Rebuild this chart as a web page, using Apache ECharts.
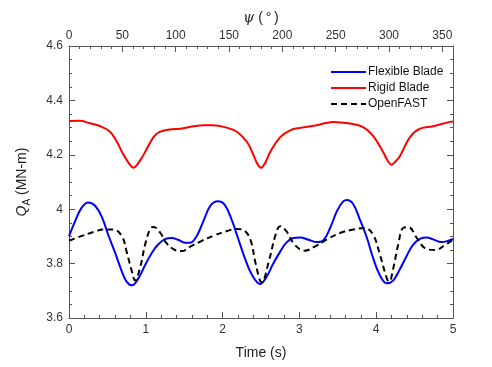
<!DOCTYPE html>
<html><head><meta charset="utf-8">
<script src="https://cdn.jsdelivr.net/npm/echarts@6/dist/echarts.min.js"></script>
<style>html,body{margin:0;padding:0;background:#fff}#c{width:492px;height:367px}</style>
</head><body><div id="c"></div>
<script>
// Time (s) samples and torque Q_A (MN-m)
var tFlex = [0,0.08,0.165,0.25,0.34,0.43,0.51,0.60,0.69,0.75,0.82,0.90,0.99,1.08,1.16,1.25,1.34,1.42,1.51,1.58,1.66,1.75,1.84,1.94,2.03,2.12,2.20,2.29,2.38,2.49,2.57,2.66,2.75,2.83,2.92,3.01,3.12,3.23,3.31,3.40,3.49,3.57,3.62,3.70,3.79,3.88,3.96,4.05,4.14,4.22,4.31,4.40,4.48,4.57,4.66,4.74,4.85,4.94,5.0];
var qFlex = [3.90,3.956,4.006,4.025,4.0125,3.97,3.906,3.84,3.77,3.734,3.72,3.744,3.794,3.84,3.87,3.89,3.894,3.8875,3.877,3.877,3.90,3.956,4.0125,4.029,4.015,3.96,3.894,3.82,3.76,3.725,3.75,3.80,3.844,3.877,3.894,3.896,3.8875,3.879,3.885,3.931,3.994,4.029,4.034,4.019,3.96,3.894,3.82,3.756,3.7275,3.7375,3.78,3.83,3.869,3.891,3.896,3.889,3.879,3.884,3.891];
var tRigid = [0,0.14,0.27,0.40,0.53,0.62,0.71,0.79,0.84,0.89,0.95,1.01,1.10,1.18,1.31,1.45,1.62,1.75,1.88,2.05,2.19,2.32,2.40,2.45,2.50,2.55,2.62,2.75,2.88,3.01,3.23,3.44,3.66,3.83,3.96,4.09,4.15,4.20,4.25,4.31,4.44,4.57,4.74,4.96,5.0];
var qRigid = [4.324,4.325,4.316,4.306,4.286,4.25,4.20,4.165,4.152,4.165,4.19,4.22,4.265,4.284,4.293,4.296,4.305,4.309,4.309,4.30,4.284,4.246,4.20,4.168,4.152,4.168,4.21,4.265,4.29,4.299,4.309,4.321,4.315,4.302,4.27,4.21,4.178,4.163,4.175,4.196,4.265,4.296,4.305,4.321,4.322];
var tFast = [0,0.15,0.32,0.45,0.58,0.69,0.75,0.82,0.86,0.93,0.99,1.06,1.10,1.19,1.27,1.38,1.47,1.58,1.71,1.88,2.05,2.18,2.29,2.37,2.43,2.51,2.60,2.69,2.75,2.83,2.94,3.07,3.20,3.35,3.53,3.70,3.85,3.96,4.05,4.14,4.17,4.22,4.29,4.35,4.42,4.53,4.64,4.77,4.90,5.0];
var qFast = [3.884,3.90,3.916,3.925,3.925,3.90,3.844,3.77,3.7375,3.79,3.869,3.929,3.935,3.9125,3.875,3.85,3.846,3.8625,3.881,3.9025,3.919,3.9275,3.92,3.881,3.80,3.731,3.806,3.906,3.9375,3.919,3.869,3.8475,3.8625,3.8875,3.9125,3.925,3.931,3.906,3.831,3.744,3.734,3.78,3.875,3.931,3.934,3.894,3.856,3.85,3.869,3.8875];
var seriesNames = ['Flexible Blade','Rigid Blade','OpenFAST'];

function pairs(t, q){ return t.map(function(x,i){ return [x, q[i]]; }); }

var FONT = 'Liberation Sans, Arial, sans-serif';
var AX = '#555';
var TXT = '#333';
var chart = echarts.init(document.getElementById('c'), null, {renderer:'canvas'});
chart.setOption({
  animation:false,
  textStyle:{fontFamily:FONT},
  grid:{left:69, right:39, top:46, bottom:49, containLabel:false},
  legend:{
    orient:'vertical', left:325, top:61, itemWidth:35, itemHeight:12, itemGap:4,
    itemStyle:{opacity:0},
    textStyle:{fontFamily:FONT, fontSize:12, color:'#111', padding:[0,0,0,-3]},
    data:seriesNames
  },
  xAxis:[
    {type:'value', position:'bottom', min:0, max:5, interval:1,
     name:'Time (s)', nameLocation:'middle', nameGap:28,
     nameTextStyle:{fontFamily:FONT, fontSize:14, color:'#222'},
     axisLine:{show:true, onZero:false, lineStyle:{color:AX, width:1}},
     axisTick:{show:true, inside:true, length:6, lineStyle:{color:AX}},
     minorTick:{show:true, splitNumber:5, length:3, lineStyle:{color:AX}},
     axisLabel:{fontFamily:FONT, fontSize:12, color:TXT, margin:6},
     splitLine:{show:false}},
    {type:'value', position:'top', min:0, max:360, interval:50,
     name:'{p|\u03C8} (\u2009\u00B0\u2009)', nameLocation:'middle', nameGap:18,
     nameTextStyle:{fontFamily:FONT, fontSize:14, color:'#222', rich:{p:{fontFamily:'DejaVu Serif, serif', fontStyle:'italic', fontSize:14, color:'#222'}}},
     axisLine:{show:true, onZero:false, lineStyle:{color:AX, width:1}},
     axisTick:{show:true, inside:true, length:6, lineStyle:{color:AX}},
     axisLabel:{fontFamily:FONT, fontSize:12, color:TXT, margin:4, showMaxLabel:false},
     splitLine:{show:false}},
    {type:'value', position:'top', min:0, max:360, interval:10,
     axisLine:{show:false},
     axisTick:{show:true, inside:true, length:3, lineStyle:{color:AX}},
     axisLabel:{show:false}, splitLine:{show:false}}
  ],
  yAxis:[
    {type:'value', position:'left', min:3.6, max:4.6, interval:0.2,
     name:'{q|Q}{s|A} (MN-m)', nameLocation:'middle', nameGap:37,
     nameTextStyle:{fontFamily:FONT, fontSize:14, color:'#222',
       rich:{q:{fontFamily:FONT, fontStyle:'italic', fontSize:14, color:'#222'},
             s:{fontFamily:FONT, fontSize:10, color:'#222', padding:[9,0,0,0]}}},
     axisLine:{show:true, onZero:false, lineStyle:{color:AX, width:1}},
     axisTick:{show:true, inside:true, length:6, lineStyle:{color:AX}},
     minorTick:{show:true, splitNumber:4, length:3, lineStyle:{color:AX}},
     axisLabel:{fontFamily:FONT, fontSize:12, color:TXT, margin:6,
       formatter:function(v){ return +v.toFixed(1) + ''; }},
     splitLine:{show:false}},
    {type:'value', position:'right', min:3.6, max:4.6, interval:0.2,
     axisLine:{show:true, onZero:false, lineStyle:{color:AX, width:1}},
     axisTick:{show:true, inside:true, length:6, lineStyle:{color:AX}},
     minorTick:{show:true, splitNumber:4, length:3, lineStyle:{color:AX}},
     axisLabel:{show:false}, splitLine:{show:false}}
  ],
  series:[
    {name:seriesNames[0], type:'line', xAxisIndex:0, yAxisIndex:0, symbol:'none', smooth:0.4,
     data:pairs(tFlex,qFlex), lineStyle:{color:'#0000ff', width:2}, itemStyle:{color:'#0000ff'}},
    {name:seriesNames[1], type:'line', xAxisIndex:0, yAxisIndex:0, symbol:'none', smooth:0.4,
     data:pairs(tRigid,qRigid), lineStyle:{color:'#ff0000', width:2}, itemStyle:{color:'#ff0000'}},
    {name:seriesNames[2], type:'line', xAxisIndex:0, yAxisIndex:0, symbol:'none', smooth:0.4,
     data:pairs(tFast,qFast), lineStyle:{color:'#000000', width:2, type:[6,4]}, itemStyle:{color:'#000000'}}
  ]
});
</script>
</body></html>
